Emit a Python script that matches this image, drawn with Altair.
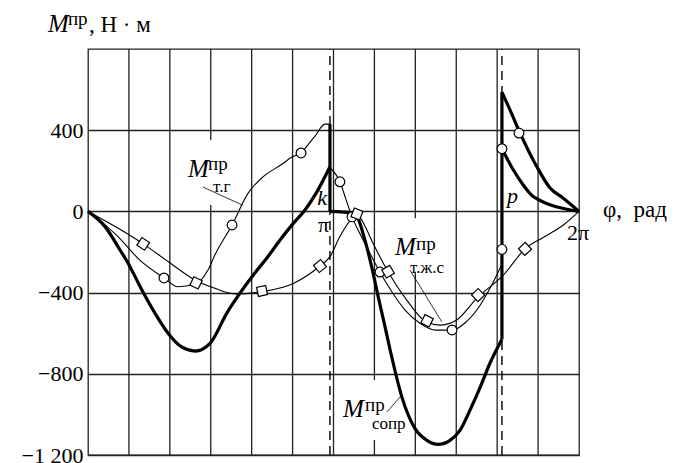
import altair as alt
import numpy as np
import pandas as pd

# ---------------- data (phi in degrees of crank angle, M in N·m) ----------------
K_PHI = 177.4
P_PHI = 303.5

# M_т.г  (thin, circles) – branch up to k and branch from k to p
tg1_phi = [0, 22, 38, 55.7, 66, 78.5, 88, 93, 105.6, 117.3, 128.5, 143.2, 148, 156.2, 166.4, 173.8, K_PHI]
tg1_M = [0, -124, -240, -328, -371, -358, -289, -215, -67, 89, 171, 237, 262, 290, 371, 430, 430]
tg2_phi = [K_PHI, 184.7, 189, 193.6, 200, 207, 214, 223, 232.5, 243.4, 255, 267, 277, 287.5, 296, P_PHI]
tg2_M = [215, 146, 62, -27, -118, -210, -299, -398, -486, -551, -585, -585, -546, -462, -363, -260]

# M_т.ж.с (thin, squares)
tjs_phi = [0, 22.2, 40.5, 58.9, 78.5, 93, 109, 127, 150.5, 170, 177.4, 184.7, 192, 197, 203, 209,
           220, 233.7, 248, 258, 270, 286, 304.5, 320.4, 335, 348.5, 360]
tjs_M = [0, -83, -160, -248, -338, -379, -407, -396, -355, -269, -223, -124, -47, -12, -72, -157,
         -297, -437, -544, -560, -536, -421, -314, -185, -124, -67, 0]

# M_сопр (thick)
sopr1_phi = [0, 12.5, 23.5, 29.3, 39.6, 49.1, 58.7, 68.9, 78.5, 89.5, 101.7, 111.4, 121.2, 131,
             140.8, 150.5, 159.1, 167.7, K_PHI]
sopr1_M = [0, -75, -190, -254, -388, -501, -600, -669, -688, -650, -502, -403, -313, -231,
           -141, -59, 7, 95, 220]
sopr2_phi = [K_PHI, 195, 197, 203, 208, 212.8, 217.8, 222.7, 230.2, 239.7, 248.5, 256.6, 265.4,
             272.7, 280, 287.5, 294.7, 302, P_PHI]
sopr2_M = [0, -8, -20, -141, -273, -421, -569, -717, -916, -1069, -1128, -1148, -1128,
           -1079, -980, -867, -748, -649, -630]
sopr3_phi = [P_PHI, 309.4, 316.8, 329, 338.8, 348.5, 360]
sopr3_M = [587, 500, 386, 221, 115, 65, 0]
sopr4_phi = [P_PHI, 311.8, 319, 326.5, 360]
sopr4_M = [309, 205, 131, 73, 0]

# vertical jumps (thick)
jump_phi = [K_PHI, P_PHI]
jump_lo = [0, -630]
jump_hi = [430, 587]

# markers
circ_phi = [55.7, 105.6, 156.2, 184.7, 193.6, 214.1, 266.9, P_PHI, P_PHI, 316]
circ_M = [-328, -67, 288, 146, -27, -299, -584, -187, 309, 386]
sq_phi = [40.5, 79.2, 127.6, 170.1, 197.2, 220, 248.6, 286, 320.4]
sq_M = [-160, -352, -392, -269, -13, -297, -539, -412, -185]

# grid
grid_phi = list(range(30, 360, 30))
grid_gaps = {90: (32, 352), 210: (-1126, -830), 240: (-297, -34)}
dash_phi = [K_PHI, P_PHI]

# ---------------- geometry ----------------
W, H = 491, 406
Y_MIN, Y_MAX = -1200, 800
SERIF = "Liberation Serif"

def curve(name, phis, ms):
    return pd.DataFrame({"phi": phis, "M": ms, "series": name, "ord": range(len(phis))})

thin_df = pd.concat([curve("tg1", tg1_phi, tg1_M), curve("tg2", tg2_phi, tg2_M),
                     curve("tjs", tjs_phi, tjs_M)])
thick_df = pd.concat([curve("s1", sopr1_phi, sopr1_M), curve("s2", sopr2_phi, sopr2_M),
                      curve("s3", sopr3_phi, sopr3_M), curve("s4", sopr4_phi, sopr4_M)])
jump_df = pd.DataFrame({"phi": jump_phi, "M": jump_lo, "M2": jump_hi})

# square orientation follows the local tangent of the M_т.ж.с curve (in pixels)
sx, sy = W / 360.0, H / float(Y_MAX - Y_MIN)
d = 1.5
m1 = np.interp(np.array(sq_phi) - d, tjs_phi, tjs_M)
m2 = np.interp(np.array(sq_phi) + d, tjs_phi, tjs_M)
ang = np.degrees(np.arctan2(-(m2 - m1) * sy, 2 * d * sx)) % 90
sq_df = pd.DataFrame({"phi": sq_phi, "M": sq_M, "ang": ang})
circ_df = pd.DataFrame({"phi": circ_phi, "M": circ_M})

rows = []
for g in grid_phi:
    if g in grid_gaps:
        a, b = grid_gaps[g]
        segs = [(Y_MIN, a), (b, Y_MAX)]
    else:
        segs = [(Y_MIN, Y_MAX)]
    for lo, hi in segs:
        rows.append({"phi": g, "M": lo, "M2": hi})
vgrid_df = pd.DataFrame(rows)
dash_df = pd.DataFrame({"phi": dash_phi, "M": [Y_MIN] * 2, "M2": [Y_MAX] * 2})

# labels
big_italic = pd.DataFrame({
    "phi": [-29.3, 73.3, 225.1, 187.0],
    "M": [884, 169, -215, -1013],
    "text": ["M", "M", "M", "M"]})
sup = pd.DataFrame({
    "phi": [-14.7, 88.0, 240.5, 203.1],
    "M": [918, 204, -190, -983],
    "text": ["пр", "пр", "пр", "пр"]})
sub = pd.DataFrame({
    "phi": [91.7, 236.1, 208.2],
    "M": [96, -303, -1072],
    "text": ["т.г", "т.ж.с", "сопр"]})
normal_left = pd.DataFrame({
    "phi": [0.7, 377.6],
    "M": [884, -28],
    "text": [",  Н · м", "φ,\u00a0\u00a0рад"]})
center_italic = pd.DataFrame({"phi": [171.6, 311.2], "M": [30, 41], "text": ["k", "p"]})
center_normal = pd.DataFrame({"phi": [172.7, 359.3], "M": [-100, -141], "text": ["π", "2π"]})
leaders = pd.DataFrame({
    "phi": [84.3, 236.1, 219.2], "M": [120, -289, -988],
    "phi2": [112.9, 259.3, 228.8], "M2": [32, -543, -914]})

# ---------------- encodings ----------------
X = alt.X("phi:Q", scale=alt.Scale(domain=[0, 360], nice=False, zero=False), axis=None)
Y = alt.Y("M:Q", scale=alt.Scale(domain=[Y_MIN, Y_MAX], nice=False, zero=False),
          axis=alt.Axis(values=[-1200, -800, -400, 0, 400], title=None, grid=True,
                        gridColor="#222222", gridWidth=1.3, domain=False, ticks=False,
                        labelFont=SERIF, labelFontSize=22, labelColor="black", labelPadding=5,
                        labelExpr="datum.value == -1200 ? '−1 200' : (datum.value < 0 ? '−' + (-datum.value) : '' + datum.value)"))

vgrid = alt.Chart(vgrid_df).mark_rule(color="#222222", strokeWidth=1.3).encode(
    x=X, y=Y, y2="M2:Q")
dashes = alt.Chart(dash_df).mark_rule(color="black", strokeWidth=1.4, strokeDash=[9, 6]).encode(
    x=X, y=Y, y2="M2:Q")
thin = alt.Chart(thin_df).mark_line(color="black", strokeWidth=1.1, interpolate="monotone").encode(
    x=X, y=Y, detail="series:N", order="ord:Q")
thick = alt.Chart(thick_df).mark_line(color="black", strokeWidth=3.2, interpolate="monotone",
                                      strokeJoin="round").encode(
    x=X, y=Y, detail="series:N", order="ord:Q")
jumps = alt.Chart(jump_df).mark_rule(color="black", strokeWidth=3.2).encode(x=X, y=Y, y2="M2:Q")
lead = alt.Chart(leaders).mark_rule(color="black", strokeWidth=0.8).encode(
    x=X, y=Y, x2="phi2:Q", y2="M2:Q")
circles = alt.Chart(circ_df).mark_point(shape="circle", filled=True, fill="white", stroke="black",
                                        strokeWidth=1.2, size=95, opacity=1).encode(x=X, y=Y)
squares = alt.Chart(sq_df).mark_point(shape="square", filled=True, fill="white", stroke="black",
                                      strokeWidth=1.2, size=85, opacity=1).encode(
    x=X, y=Y, angle=alt.Angle("ang:Q", scale=None))

def text_layer(df, size, style="normal", align="left"):
    return alt.Chart(df).mark_text(font=SERIF, fontSize=size, fontStyle=style, align=align,
                                   baseline="alphabetic", color="black").encode(
        x=X, y=Y, text="text:N")

texts = [
    text_layer(big_italic, 25, "italic"),
    text_layer(sup, 19),
    text_layer(sub, 17),
    text_layer(normal_left, 23),
    text_layer(center_italic, 22, "italic", "center"),
    text_layer(center_normal, 22, "normal", "center"),
]

chart = alt.layer(vgrid, dashes, thin, thick, jumps, lead, circles, squares, *texts).properties(
    width=W, height=H,
    padding={"left": 80, "top": 41, "right": 90, "bottom": 12},
    autosize=alt.AutoSizeParams(type="none"),
).configure_view(stroke="#222222", strokeWidth=1.3)

chart.save("out.html", embed_options={"renderer": "svg", "actions": False})
